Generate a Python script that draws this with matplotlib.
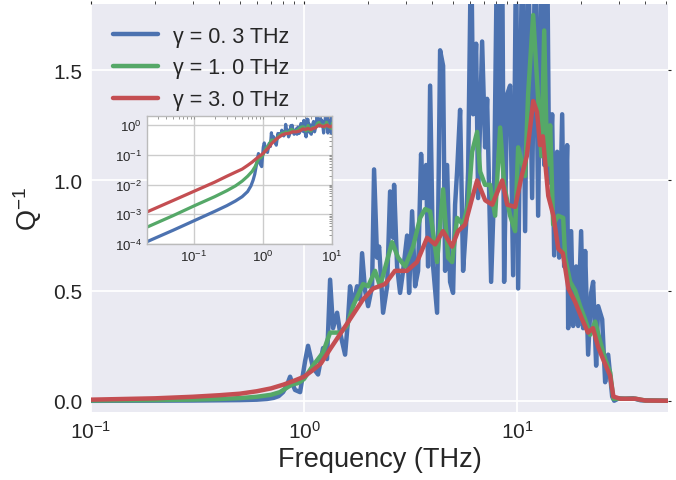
import matplotlib
matplotlib.use("Agg")
import matplotlib.pyplot as plt
import seaborn as sns

# Q^-1 spectra for three damping values (frequency in THz)
freq_03 = [0.021, 0.05, 0.1, 0.2, 0.3, 0.4, 0.5, 0.6, 0.67, 0.72, 0.76, 0.797, 0.83, 0.86, 0.88,
           0.907, 0.958, 1.011, 1.044, 1.102, 1.163, 1.228, 1.282, 1.325, 1.368, 1.429, 1.476,
           1.558, 1.609, 1.644, 1.698, 1.773, 1.832, 1.872, 1.934, 1.998, 2.086, 2.131, 2.201,
           2.250, 2.349, 2.454, 2.534, 2.618, 2.646, 2.733, 2.823, 2.916, 3.045, 3.112, 3.214,
           3.320, 3.429, 3.542, 3.620, 3.739, 3.821, 3.905, 4.033, 4.211, 4.350, 4.493, 4.592,
           4.692, 4.846, 5.005, 5.115, 5.227, 5.400, 5.578, 5.762, 5.888, 6.082, 6.215, 6.420,
           6.560, 6.850, 7.075, 7.230, 7.550, 7.798, 8.056, 8.232, 8.503, 8.690, 8.976, 9.272,
           9.577, 9.892, 10.11, 10.56, 10.90, 11.26, 11.76, 12.15, 12.55, 13.0, 13.4, 13.83,
           14.14, 14.60, 14.92, 15.41, 15.75, 16.27, 16.62, 17.17, 17.36, 17.93, 18.32, 18.92,
           19.34, 19.97, 20.41, 20.86, 21.54, 22.25, 22.74, 23.49, 24.01, 25.07, 25.89, 26.74,
           27.93, 28.54, 30.0, 32.1, 35.0, 38.0, 51.0]
q_03 = [1.2e-4, 2.9e-4, 6.0e-4, 1.25e-3, 1.95e-3, 2.8e-3, 3.9e-3, 5.8e-3, 0.009, 0.014, 0.022,
        0.04, 0.07, 0.11, 0.08, 0.05, 0.04, 0.18, 0.25, 0.15, 0.12, 0.24, 0.19, 0.55, 0.33, 0.40,
        0.31, 0.21, 0.37, 0.52, 0.43, 0.52, 0.46, 0.67, 0.50, 0.43, 0.52, 1.05, 0.65, 0.70, 0.40,
        0.52, 0.95, 0.74, 0.98, 0.61, 0.49, 0.59, 0.75, 0.49, 0.86, 0.52, 0.59, 1.12, 0.92, 1.07,
        0.61, 1.43, 0.61, 0.40, 1.59, 1.52, 0.59, 1.07, 0.54, 0.49, 0.89, 1.04, 1.32, 0.59, 0.80,
        1.04, 2.1, 1.30, 1.62, 0.92, 1.63, 1.15, 1.37, 0.54, 0.96, 2.1, 1.10, 2.1, 0.54, 1.39,
        1.43, 0.57, 2.1, 0.51, 2.1, 0.77, 2.1, 0.92, 2.1, 0.84, 2.1, 1.07, 2.1, 0.99, 1.30, 0.66,
        1.13, 0.65, 1.30, 0.61, 1.16, 0.33, 0.77, 0.34, 0.61, 0.34, 0.77, 0.33, 0.68, 0.21, 0.49,
        0.54, 0.16, 0.43, 0.37, 0.085, 0.21, 0.02, 0.001, 0.012, 0.01, 0.012, 0.003, 0.001]

freq_10 = [0.021, 0.05, 0.1, 0.2, 0.3, 0.4, 0.5, 0.6, 0.7, 0.77, 0.83, 0.88, 0.93, 0.97, 1.0,
           1.1, 1.163, 1.228, 1.28, 1.325, 1.476, 1.591, 1.698, 1.892, 1.998, 2.154, 2.274,
           2.589, 2.763, 2.981, 3.249, 3.504, 3.70, 3.905, 4.211, 4.493, 4.743, 4.953, 5.227,
           5.578, 5.888, 6.148, 6.49, 6.705, 7.075, 7.468, 7.885, 8.322, 8.690, 9.272, 9.786,
           10.11, 10.90, 11.26, 11.89, 12.55, 13.0, 13.4, 13.83, 14.29, 14.76, 15.58, 16.45,
           16.80, 17.74, 18.73, 19.76, 20.86, 22.01, 23.24, 24.53, 25.89, 27.33, 28.3, 32.0,
           36.0, 40.0, 51.0]
q_10 = [3.7e-4, 9e-4, 1.9e-3, 3.9e-3, 6.2e-3, 9e-3, 0.013, 0.019, 0.028, 0.040, 0.06, 0.075,
        0.08, 0.09, 0.10, 0.16, 0.19, 0.22, 0.27, 0.31, 0.31, 0.34, 0.43, 0.53, 0.52, 0.59, 0.52,
        0.72, 0.65, 0.61, 0.70, 0.83, 0.87, 0.86, 0.63, 0.96, 0.65, 0.63, 0.83, 0.80, 0.89, 1.13,
        1.22, 1.04, 0.98, 0.98, 0.84, 1.24, 0.98, 0.84, 0.77, 1.15, 1.02, 1.39, 1.75, 1.37, 1.11,
        1.68, 1.07, 1.25, 0.80, 0.84, 0.83, 0.65, 0.54, 0.50, 0.43, 0.37, 0.30, 0.36, 0.27, 0.19,
        0.13, 0.01, 0.01, 0.01, 0.002, 0.001]

freq_30 = [0.021, 0.05, 0.1, 0.2, 0.3, 0.4, 0.5, 0.6, 0.7, 0.8, 0.9, 1.0, 1.1, 1.2, 1.325,
           1.59, 1.89, 2.11, 2.40, 2.67, 3.04, 3.39, 3.78, 4.12, 4.49, 4.95, 5.28, 5.70, 6.15,
           6.49, 7.08, 7.64, 8.51, 8.98, 9.79, 10.5, 11.1, 11.9, 12.4, 12.8, 13.2, 14.0, 14.8,
           15.6, 16.4, 17.4, 18.7, 20.2, 21.5, 22.7, 24.0, 25.3, 27.3, 28.3, 30.5, 36.0, 40.0,
           51.0]
q_30 = [1.2e-3, 2.9e-3, 5.9e-3, 0.012, 0.019, 0.026, 0.033, 0.044, 0.057, 0.074, 0.092, 0.11,
        0.14, 0.17, 0.235, 0.35, 0.46, 0.51, 0.53, 0.59, 0.59, 0.63, 0.74, 0.71, 0.77, 0.70,
        0.77, 0.80, 0.92, 1.00, 0.91, 0.89, 1.00, 0.89, 0.88, 1.02, 1.11, 1.36, 1.31, 1.16, 1.20,
        0.93, 0.84, 0.69, 0.67, 0.51, 0.45, 0.37, 0.31, 0.33, 0.245, 0.19, 0.115, 0.02, 0.01,
        0.01, 0.002, 0.001]

series = [
    (freq_03, q_03, "#4C72B0", "γ = 0. 3 THz"),
    (freq_10, q_10, "#55A868", "γ = 1. 0 THz"),
    (freq_30, q_30, "#C44E52", "γ = 3. 0 THz"),
]

sns.set_style("darkgrid")
plt.rcParams["font.family"] = ["Liberation Sans", "DejaVu Sans"]
plt.rcParams["mathtext.fontset"] = "custom"
plt.rcParams["mathtext.rm"] = "Liberation Sans"
plt.rcParams["mathtext.it"] = "Liberation Sans"
plt.rcParams["mathtext.default"] = "regular"

fig = plt.figure(figsize=(6.76, 4.81), dpi=100)
ax = fig.add_axes([0.1346, 0.1414, 0.8534, 0.8482])

for f, q, c, lab in series:
    ax.plot(f, q, color=c, lw=3.2, label=lab, solid_joinstyle="round")

ax.set_xscale("log")
ax.set_xlim(0.1, 51)
ax.set_ylim(-0.05, 1.8)
ax.set_yticks([0.0, 0.5, 1.0, 1.5])
ax.set_yticklabels(["0.0", "0.5", "1.0", "1.5"])
ax.tick_params(which="both", direction="out", top=True, right=True, colors="#262626",
               labelsize=15, length=2.5, width=0.8)
ax.tick_params(which="minor", length=2, width=0.6)
ax.grid(True, which="major", color="white", lw=1.3)
ax.grid(False, which="minor")
for s in ax.spines.values():
    s.set_visible(False)
ax.set_xlabel("Frequency (THz)", fontsize=19.5, color="#262626", labelpad=3)
ax.set_ylabel("Q$^{-1}$", fontsize=19.5, color="#262626", labelpad=7)

ax.legend(loc="upper left", frameon=False, fontsize=15.5, handlelength=2.1,
          borderaxespad=0.6, labelspacing=0.5, handletextpad=0.7)

# log-log inset
ins = fig.add_axes([0.2175, 0.4906, 0.2737, 0.266])
ins.set_facecolor("white")
for f, q, c, lab in series:
    ins.plot(f, q, color=c, lw=2.3, solid_joinstyle="round")
ins.set_xscale("log")
ins.set_yscale("log")
ins.set_xlim(0.021, 10)
ins.set_ylim(1e-4, 2)
ins.set_yticks([1e-4, 1e-3, 1e-2, 1e-1, 1e0])
ins.set_xticks([1e-1, 1e0, 1e1])
ins.grid(True, which="major", color="#cccccc", lw=1.0)
ins.grid(False, which="minor")
ins.tick_params(which="both", direction="in", right=True, top=True, colors="#888888",
                labelcolor="#262626", labelsize=9.5, length=2, width=0.6)
for s in ins.spines.values():
    s.set_visible(True)
    s.set_color("#bbbbbb")
    s.set_linewidth(1.0)

fig.savefig("out.png", dpi=100)
